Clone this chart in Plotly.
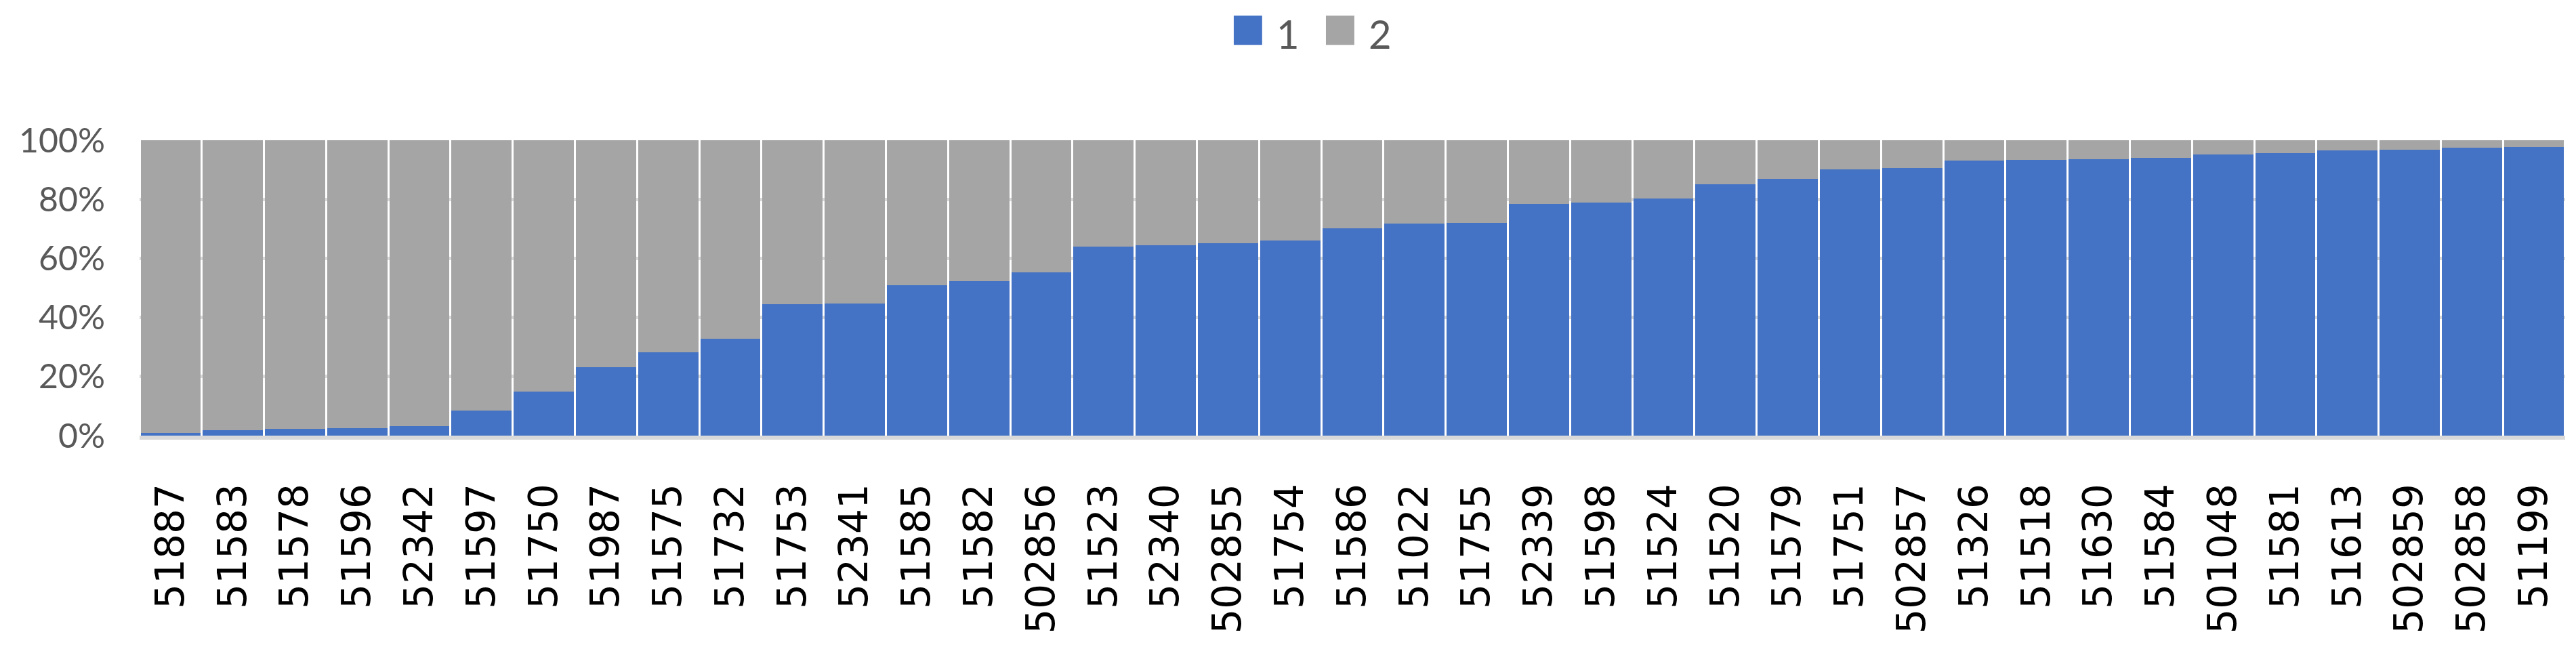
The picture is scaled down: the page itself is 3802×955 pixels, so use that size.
import plotly.graph_objects as go

# category labels (x axis)
SITES = ['51887', '51583', '51578', '51596', '52342', '51597', '51750', '51987',
         '51575', '51732', '51753', '52341', '51585', '51582', '502856', '51523',
         '52340', '502855', '51754', '51586', '51022', '51755', '52339', '51598',
         '51524', '51520', '51579', '51751', '502857', '51326', '51518', '51630',
         '51584', '501048', '51581', '51613', '502859', '502858', '51199']

# share of series "1" (blue), percent
SHARE_1 = [0.9, 1.8, 2.3, 2.5, 3.2, 8.5, 14.9, 23.1, 28.1, 32.9,
           44.6, 44.8, 51.0, 52.4, 55.3, 64.0, 64.5, 65.2, 66.1, 70.2,
           71.8, 72.0, 78.4, 78.9, 80.3, 85.1, 86.9, 90.1, 90.5, 93.1,
           93.3, 93.5, 94.0, 95.1, 95.6, 96.5, 96.7, 97.4, 97.6]

# share of series "2" (grey), percent
SHARE_2 = [99.1, 98.2, 97.7, 97.5, 96.8, 91.5, 85.1, 76.9, 71.9, 67.1,
           55.4, 55.2, 49.0, 47.6, 44.7, 36.0, 35.5, 34.8, 33.9, 29.8,
           28.2, 28.0, 21.6, 21.1, 19.7, 14.9, 13.1, 9.9, 9.5, 6.9,
           6.7, 6.5, 6.0, 4.9, 4.4, 3.5, 3.3, 2.6, 2.4]

Y_TICKS = [0, 20, 40, 60, 80, 100]
Y_TICK_LABELS = ['0%', '20%', '40%', '60%', '80%', '100%']

COLOR_1 = '#4472C4'
COLOR_2 = '#A5A5A5'
GRID = '#D9D9D9'
TEXT_GREY = '#595959'

fig = go.Figure()
fig.add_trace(go.Bar(x=SITES, y=SHARE_1, name='1', marker_color=COLOR_1, marker_line_width=0))
fig.add_trace(go.Bar(x=SITES, y=SHARE_2, name='2', marker_color=COLOR_2, marker_line_width=0))

# legend drawn by hand so the swatches can be as big as the text
legend_items = [('1', COLOR_1, 0.4511), ('2', COLOR_2, 0.4891)]
for label, color, x0 in legend_items:
    fig.add_shape(type='rect', xref='paper', yref='paper',
                  x0=x0, x1=x0 + 0.0117, y0=1.323, y1=1.422,
                  fillcolor=color, line_width=0)
    fig.add_annotation(text=label, xref='paper', yref='paper',
                       x=x0 + 0.0172, y=1.362, xanchor='left', yanchor='middle',
                       showarrow=False, borderpad=0,
                       font=dict(family='Lato', size=58, color=TEXT_GREY))

# the page body has an 8px margin, so the figure is 16px smaller than the window
fig.update_layout(
    width=3786, height=939,
    barmode='stack',
    bargap=0.033,
    paper_bgcolor='white',
    plot_bgcolor='white',
    showlegend=False,
    margin=dict(l=198, r=8, t=199, b=304),
    xaxis=dict(
        type='category',
        tickangle=-90,
        tickfont=dict(family='DejaVu Sans', size=58, color='black'),
        showline=True, linecolor=GRID, linewidth=6,
        showgrid=False, ticks='',
        ticklabelstandoff=42,
        automargin=False,
    ),
    yaxis=dict(
        range=[0, 100],
        tickvals=Y_TICKS,
        ticktext=Y_TICK_LABELS,
        tickfont=dict(family='Lato', size=50, color=TEXT_GREY),
        showgrid=True, gridcolor=GRID, gridwidth=5,
        zeroline=False, showline=False, ticks='',
        ticklabelstandoff=50,
        automargin=False,
    ),
)

fig.write_html("out.html")
